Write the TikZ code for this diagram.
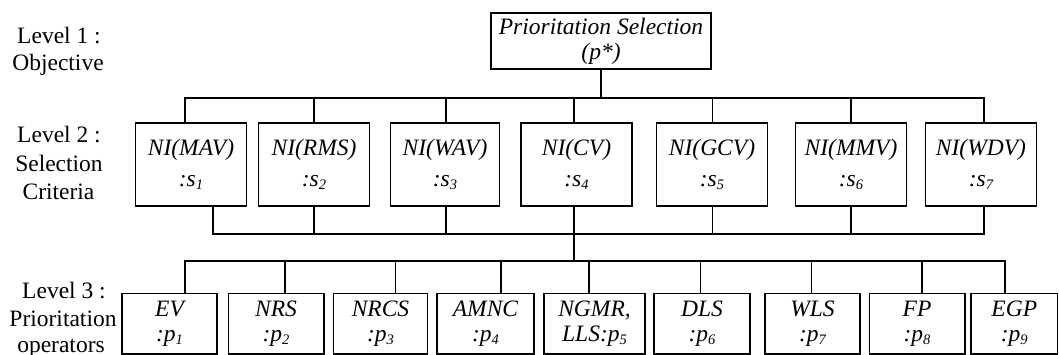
\documentclass[tikz,border=0pt]{standalone}
\usepackage{fontspec}
\setmainfont{Liberation Serif}
% small lowered index used in the box labels
\newcommand{\subidx}[1]{\raisebox{-0.3ex}{\fontsize{14.5}{14.5}\selectfont #1}}
\begin{document}
\begin{tikzpicture}[x=1pt,y=-1pt,
  box/.style={draw, line width=1.5pt, inner sep=0pt, align=center},
  boxtxt/.style={font=\fontsize{23.5}{#1}\selectfont\itshape},
  lvl/.style={anchor=base, inner sep=0pt, font=\fontsize{23.5}{28}\selectfont},
  wire/.style={line width=1.5pt, line cap=rect}]
\useasboundingbox (0,0) rectangle (1059,355);

% level captions on the left
\node[lvl] (lv1a) at (59,44) {Level 1 :};
\node[lvl] (lv1b) at (58,71) {Objective};
\node[lvl] (lv2a) at (59,143) {Level 2 :};
\node[lvl] (lv2b) at (59,172) {Selection};
\node[lvl] (lv2c) at (58.5,200) {Criteria};
\node[lvl] (lv3a) at (64,298) {Level 3 :};
\node[lvl] (lv3b) at (63,326) {Prioritation};
\node[lvl] (lv3c) at (61,352) {operators};

% objective
\node[box, boxtxt=25, minimum width=220pt, minimum height=56pt] (top) at (601,41)
  {Prioritation Selection\\(p*)};

% selection criteria: name / centre x / width / upper drop x / lower drop x / label / index
\foreach \n/\cx/\w/\ux/\dx/\t/\k in {
  1/191/111/185/213/NI(MAV)/1,
  2/314/111/314/314/NI(RMS)/2,
  3/445/109/446/446/NI(WAV)/3,
  4/576.5/111/574/574/NI(CV)/4,
  5/712/111/712.5/712.5/NI(GCV)/5,
  6/851/111/851/851/NI(MMV)/6,
  7/981/111/984/984/NI(WDV)/7}{
  \node[box, boxtxt=31, minimum width=\w pt, minimum height=83pt] (s\n) at (\cx,164.5)
    {\t\\:s\subidx{\k}};
  \coordinate (s\n-up) at (\ux,98);
  \coordinate (s\n-dn) at (\dx,234);
}

% prioritation operators: name / centre x / width / drop x
\foreach \n/\cx/\w/\ux/\t in {
  1/169.5/95/185/{EV\\:p},
  2/276/95.5/285/{NRS\\:p},
  3/380.5/94/395.5/{NRCS\\:p},
  4/485.5/97/501/{AMNC\\:p},
  5/594.5/101/589/{NGMR,\\LLS:p},
  6/702/96/700.7/{DLS\\:p},
  7/812.5/95/811.6/{WLS\\:p},
  8/917/95.5/922/{FP\\:p},
  9/1014.25/86.5/1005/{EGP\\:p}}{
  \node[box, boxtxt=25, minimum width=\w pt, minimum height=60.5pt] (p\n) at (\cx,323.75)
    {\t\subidx{\n}};
  \coordinate (p\n-up) at (\ux,261);
}

% objective to criteria
\draw[wire] (top.south) -- (top.south |- s1-up);
\draw[wire] (s1-up |- s1.north) -- (s1-up) -- (s7-up) -- (s7-up |- s7.north);
\foreach \n in {2,...,6}
  \draw[wire] (s\n-up) -- (s\n-up |- s\n.north);

% criteria joined below
\draw[wire] (s1-dn |- s1.south) -- (s1-dn) -- (s7-dn) -- (s7-dn |- s7.south);
\foreach \n in {2,...,6}
  \draw[wire] (s\n-dn |- s\n.south) -- (s\n-dn);

% criteria to operators
\draw[wire] (s4-dn) -- (s4-dn |- p1-up);
\draw[wire] (p1-up |- p1.north) -- (p1-up) -- (p9-up) -- (p9-up |- p9.north);
\foreach \n in {2,...,8}
  \draw[wire] (p\n-up) -- (p\n-up |- p\n.north);
\end{tikzpicture}
\end{document}
